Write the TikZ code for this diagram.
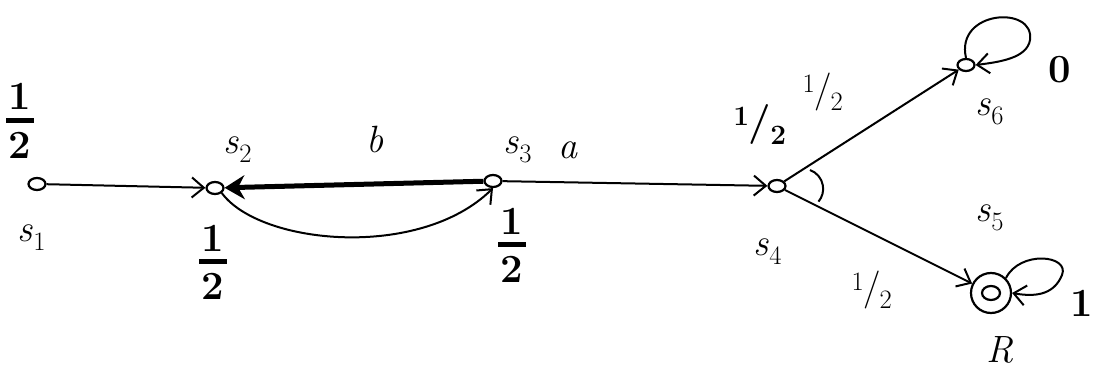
\documentclass[tikz,border=0pt]{standalone}
\usepackage{fontspec}
\usetikzlibrary{arrows.meta,shapes.geometric}
\newcommand\halffrac{\vbox{\offinterlineskip\halign{\hfil##\hfil\cr\textbf{1}\cr\noalign{\kern8pt}\rule{28pt}{5pt}\cr\noalign{\kern9pt}\textbf{2}\cr}}}
\newcommand\slhalf{\textsuperscript{1}\kern-1pt/\kern-1pt\textsubscript{2}}
\newcommand\sn[1]{\textit{s}\textsubscript{#1}}
\begin{document}
\begin{tikzpicture}[x=1pt,y=-1pt,
  state/.style={draw,line width=2.2pt,ellipse,minimum width=17pt,minimum height=12pt,inner sep=0pt},
  edge/.style={line width=2pt,-{Straight Barb[length=12pt,width=20pt,line width=2pt]}},
  lbl/.style={font=\fontsize{38}{40}\selectfont},
  frac/.style={font=\fontsize{40}{42}\selectfont\bfseries}]
\useasboundingbox (0,0) rectangle (1095,390);
\node[state] (s1) at (37,184) {};
\node[state] (s2) at (215,188) {};
\node[state] (s3) at (493,181) {};
\node[state] (s4) at (777,186) {};
\node[state] (s6) at (966,65) {};
\node[draw,circle,line width=2.2pt,minimum size=40pt,inner sep=0pt] (s5) at (991,293) {};
\node[state,minimum width=18pt,minimum height=14pt] (s5i) at (991,293) {};
% labels
\node[frac] (f1) at (20,121) {\halffrac};
\node[lbl] (l1) at (32,238) {\sn{1}};
\node[lbl] (l2) at (238,150) {\sn{2}};
\node[frac] (f2) at (213,262) {\halffrac};
\node[lbl] (lb) at (375,140) {\textit{b}};
\node[lbl] (l3) at (518,150) {\sn{3}};
\node[lbl] (la) at (568,150) {\textit{a}};
\node[frac] (f3) at (512,245) {\halffrac};
\node[frac] (f4) at (760,125) {\slhalf};
\node[lbl] (l4) at (768,252) {\sn{4}};
\node[lbl] (e46) at (823,92) {\slhalf};
\node[lbl] (e45) at (872,290) {\slhalf};
\node[lbl] (l6) at (990,112) {\sn{6}};
\node[frac] (r6) at (1060,70) {0};
\node[lbl] (l5) at (990,218) {\sn{5}};
\node[lbl] (lR) at (1000,350) {\textit{R}};
\node[frac] (r5) at (1082,303) {1};
% edges
\draw[edge] (s1) -- (s2);
\draw[line width=5pt,-{Stealth[length=20pt,width=24pt]}] (s3) -- (s2);
\draw[edge] (s2.south east) .. controls (260,245) and (420,260) .. (s3.south);
\draw[edge] (s3) -- (s4);
\draw[edge] (s4) -- (s6);
\draw[edge] (s4) -- (s5);
\draw[line width=2pt] (810,170) arc[start angle=70,end angle=-40,radius=20pt];
\draw[edge] (s6.north) .. controls (955,10) and (1035,5) .. (1030,40) .. controls (1027,58) and (1000,62) .. (s6.east);
\draw[edge] (s5.north east) .. controls (1020,250) and (1070,255) .. (1062,275) .. controls (1055,292) and (1040,298) .. (s5.east);
\end{tikzpicture}
\end{document}
